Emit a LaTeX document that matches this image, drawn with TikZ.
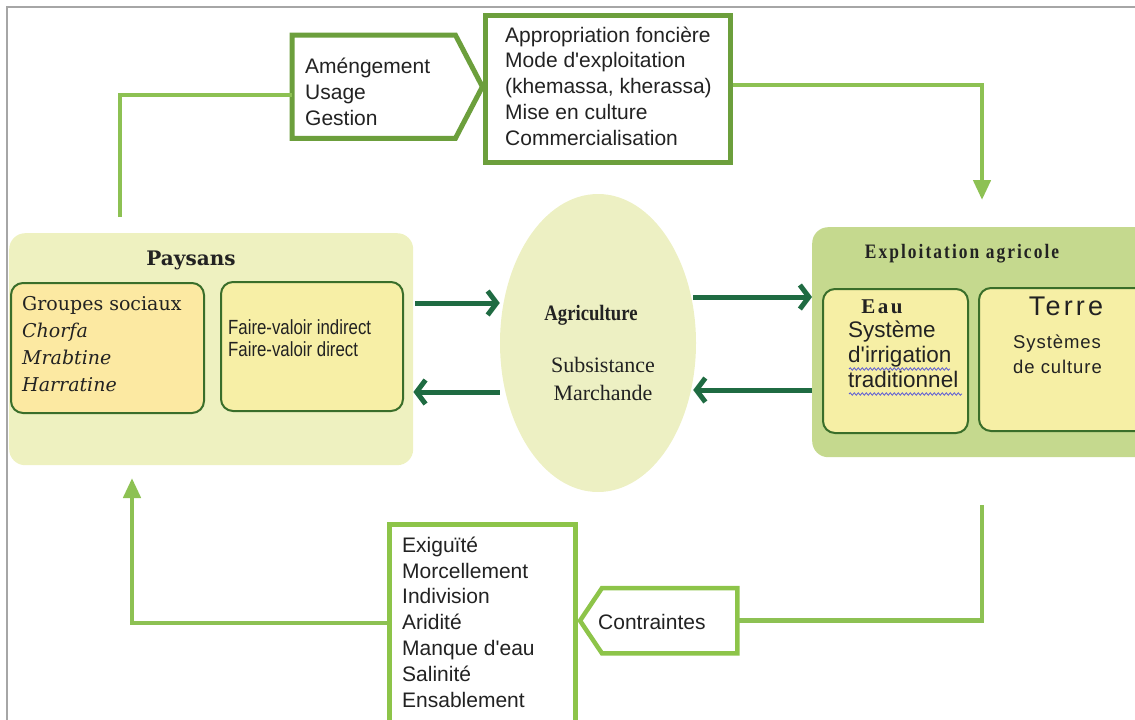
\documentclass[tikz,border=0pt]{standalone}
\usepackage{fontspec}
\setmainfont{Liberation Sans}
\newfontfamily\plainsans{Liberation Sans}
\newfontfamily\serifA{DejaVu Serif}
\newfontfamily\tnr{Liberation Serif}
\newfontfamily\condserif[FakeStretch=0.85]{Liberation Serif}
\newfontfamily\condserifsp[FakeStretch=0.85,LetterSpace=10]{Liberation Serif}
\newfontfamily\serifsp[LetterSpace=12]{Liberation Serif}
\newfontfamily\narrowsans[FakeStretch=0.82]{Liberation Sans}
\newfontfamily\sanssp[LetterSpace=12]{Liberation Sans}
\newfontfamily\sanslsp[LetterSpace=5]{Liberation Sans}
\usetikzlibrary{shapes.geometric,arrows.meta,decorations.pathmorphing}

\definecolor{frameG}{HTML}{A6A6A6}
\definecolor{lineG}{HTML}{8DC153}
\definecolor{boxG}{HTML}{6C9F3C}
\definecolor{boxG2}{HTML}{8DC449}
\definecolor{darkA}{HTML}{1F6B42}
\definecolor{inB}{HTML}{3A6E2A}
\definecolor{payBg}{HTML}{EEF1C0}
\definecolor{grpBg}{HTML}{FCE9A2}
\definecolor{fvBg}{HTML}{F7EFA6}
\definecolor{ellBg}{HTML}{EDF0C3}
\definecolor{expBg}{HTML}{C5D98E}
\definecolor{eauBg}{HTML}{F6EFA5}
\definecolor{txt}{HTML}{222222}
\definecolor{spell}{HTML}{5B5BD6}

\begin{document}
\begin{tikzpicture}[x=1pt,y=-1pt,
  panel/.style={rectangle, rounded corners=16pt, inner sep=0pt, anchor=north west, draw=none},
  inbox/.style={rectangle, rounded corners=12pt, draw=inB, line width=2pt, inner sep=0pt, anchor=north west},
  hidden/.style={rectangle, inner sep=0pt, anchor=north west, draw=none},
  gbox/.style={rectangle, line width=5pt, fill=white, inner sep=0pt, anchor=north west},
  conn/.style={draw=lineG, line width=4.5pt},
  connarr/.style={conn, -{Triangle[length=20pt,width=17pt]}},
  darr/.style={draw=darkA, line width=5pt, -{Straight Barb[length=9pt,width=24pt]}},
  txtS/.style={inner sep=0pt, align=left, text=txt, font=\plainsans\fontsize{21}{25.8}\selectfont},
  wavy/.style={draw=spell, line width=0.8pt, decorate, decoration={snake, amplitude=1.2pt, segment length=4pt}}
]
\useasboundingbox (0,0) rectangle (1135,720);

% ---------- panels ----------
\node[panel, fill=payBg, minimum width=404pt, minimum height=232pt] (pay) at (9,233) {};
\node[inbox, fill=grpBg, minimum width=193pt, minimum height=130pt] (grp) at (10,282) {};
\node[inbox, fill=fvBg, minimum width=182pt, minimum height=129pt] (fv) at (220,281) {};

\node[ellipse, fill=ellBg, minimum width=196pt, minimum height=298pt, inner sep=0pt] (agri) at (598,343) {};

\node[panel, fill=expBg, minimum width=345pt, minimum height=230pt] (exp) at (812,227) {};
\node[inbox, fill=eauBg, minimum width=145pt, minimum height=144pt] (eau) at (822,288) {};
\node[inbox, fill=eauBg, minimum width=175pt, minimum height=143pt] (terre) at (978,287) {};

% ---------- top boxes ----------
\node[hidden, minimum width=190pt, minimum height=103pt] (amen) at (292,35) {};
\draw[draw=boxG, line width=5pt, fill=white, line join=miter]
  (amen.north west) -- ([xshift=-27pt]amen.north east) -- (amen.east)
  -- ([xshift=-27pt]amen.south east) -- (amen.south west) -- cycle;
\node[gbox, draw=boxG, minimum width=245pt, minimum height=147pt] (appr) at (483,13) {};

% ---------- bottom boxes ----------
\node[gbox, draw=boxG2, line width=4.5pt, minimum width=186pt, minimum height=240pt] (exig) at (387,522) {};
\node[hidden, minimum width=157pt, minimum height=65pt] (contr) at (580,588) {};
\draw[draw=boxG2, line width=4.5pt, fill=white, line join=miter]
  (contr.west) -- ([xshift=22pt]contr.north west) -- (contr.north east)
  -- (contr.south east) -- ([xshift=22pt]contr.south west) -- cycle;

% ---------- texts ----------
\node[txtS, anchor=west] (tamen) at (305,92) {Améngement\\Usage\\Gestion};
\node[txtS, anchor=west] (tappr) at (505,86) {Appropriation foncière\\Mode d'exploitation\\(khemassa, kherassa)\\Mise en culture\\Commercialisation};
\node[txtS, anchor=west] (texig) at (402,622) {Exiguïté\\Morcellement\\Indivision\\Aridité\\Manque d'eau\\Salinité\\Ensablement};
\node[txtS, anchor=west] (tcontr) at (598,622) {Contraintes};

\node[inner sep=0pt, text=txt, font=\serifA\bfseries\fontsize{20}{24}\selectfont] (tpay) at (191,260) {Paysans};
\node[inner sep=0pt, align=left, text=txt, anchor=west, font=\serifA\fontsize{19}{27}\selectfont] (tgrp) at (22,344)
  {Groupes sociaux\\\textit{Chorfa}\\\textit{Mrabtine}\\\textit{Harratine}};
\node[inner sep=0pt, align=left, text=txt, anchor=west, font=\narrowsans\fontsize{20.5}{21.5}\selectfont] (tfv) at (228,338)
  {Faire-valoir indirect\\Faire-valoir direct};

\node[inner sep=0pt, text=txt, font=\condserif\bfseries\fontsize{22}{24}\selectfont] (tagri) at (591,315) {Agriculture};
\node[inner sep=0pt, align=center, text=txt, font=\tnr\fontsize{22}{28}\selectfont] (tagri2) at (603,379) {Subsistance\\Marchande};

\node[inner sep=0pt, text=txt, font=\condserifsp\bfseries\fontsize{20.5}{22}\selectfont] (texp) at (962,254) {Exploitation agricole};
\node[inner sep=0pt, text=txt, font=\serifsp\bfseries\fontsize{21}{22}\selectfont] (teau) at (882,307) {Eau};
\node[inner sep=0pt, align=left, anchor=west, text=txt, font=\plainsans\fontsize{22.5}{25}\selectfont] (teau2) at (848,354)
  {Système\\d'irrigation\\traditionnel};
\node[inner sep=0pt, text=txt, font=\sanssp\fontsize{27}{28}\selectfont] (tterre) at (1066,306) {Terre};
\node[inner sep=0pt, align=left, anchor=west, text=txt, font=\sanslsp\fontsize{18.5}{25}\selectfont] (tterre2) at (1013,354)
  {Systèmes\\de culture};

\draw[wavy] (849,369) -- (950,369);
\draw[wavy] (849,394) -- (962,394);

% ---------- connectors ----------
\coordinate (c1) at (120,217);
\coordinate (c2) at (982,200);
\coordinate (c3) at (982,505);
\coordinate (c4) at (132,478);

\draw[conn] (c1) |- (amen.west |- 0,95);
\draw[connarr] (appr.east |- 0,85) -| (c2);
\draw[conn] (c3) |- (contr.east);
\draw[connarr] (exig.west |- 0,623) -| (c4);

\draw[darr] (pay.east |- 0,303) ++(2,0) -- (agri.west |- 0,303);
\draw[darr] (agri.west |- 0,392) -- (pay.east |- 0,392);
\draw[darr] (agri.east |- 0,297) ++(-3,0) -- (exp.west |- 0,297);
\draw[darr] (exp.west |- 0,390) -- ([xshift=-3pt]agri.east |- 0,390);

% ---------- frame ----------
\draw[frameG, line width=2pt] (1135,7) -- (7,7) -- (7,720);
\end{tikzpicture}
\end{document}
